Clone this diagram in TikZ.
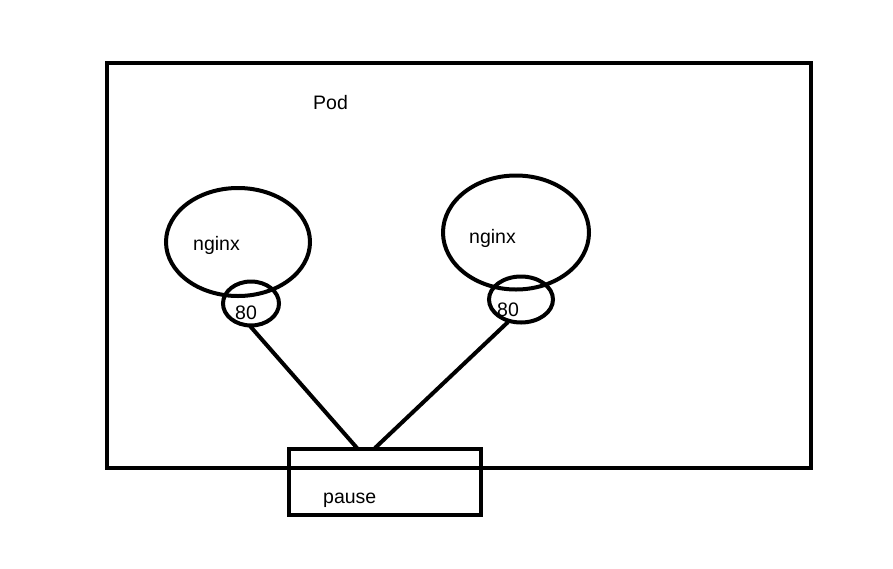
\documentclass[tikz,border=0pt]{standalone}
\usepackage{fontspec}
\setmainfont{Liberation Sans}
\begin{document}
\begin{tikzpicture}[x=1pt,y=-1pt,
  thick line/.style={line width=4pt},
  lbl/.style={inner sep=0pt,anchor=base west,font=\fontsize{19.5}{22}\selectfont}]
\useasboundingbox (0,0) rectangle (893,568);
\draw[thick line] (107,63) rectangle (811,468);
\node[lbl] (pod) at (313,109) {Pod};
\draw[thick line] (238,242) ellipse [x radius=72, y radius=54];
\draw[thick line] (251,303.5) ellipse [x radius=28, y radius=22];
\draw[thick line] (516,232.5) ellipse [x radius=73, y radius=57];
\draw[thick line] (521,299.5) ellipse [x radius=32, y radius=23];
\node[lbl] (n1) at (193,250) {nginx};
\node[lbl] (n2) at (469,243) {nginx};
\node[lbl] (p1) at (235,319) {80};
\node[lbl] (p2) at (497,316) {80};
\coordinate (a1) at (250,326);
\coordinate (a2) at (508,322);
\coordinate (b1) at (357,448);
\coordinate (b2) at (375,448);
\draw[thick line] (a1) -- (b1);
\draw[thick line] (a2) -- (b2);
\draw[thick line] (289,449) rectangle (481,515);
\node[lbl] (pause) at (323,503) {pause};
\end{tikzpicture}
\end{document}
